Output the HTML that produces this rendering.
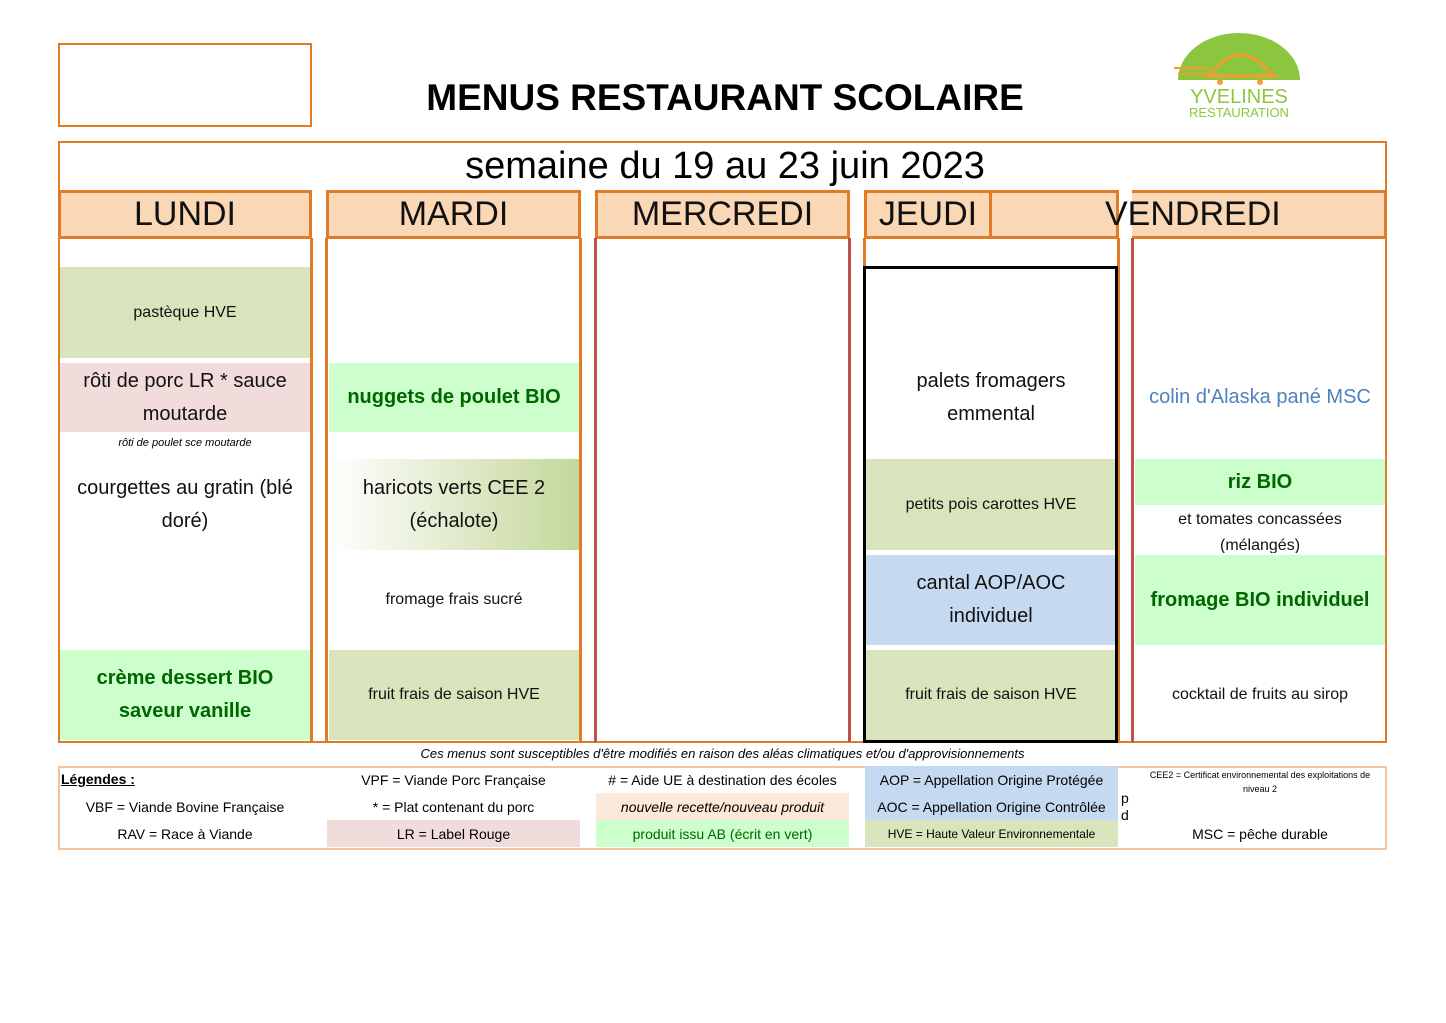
<!DOCTYPE html>
<html><head><meta charset="utf-8"><style>
body{margin:0;width:1446px;height:1023px;background:#fff;position:relative;font-family:"Liberation Sans","DejaVu Sans",sans-serif;overflow:hidden}
div{position:absolute;box-sizing:border-box}
.c{display:flex;align-items:center;justify-content:center;text-align:center}
.h{background:#fad7b5;border:3px solid #e07b28;font-size:34px;color:#111}
.t{font-size:20px;line-height:33px;color:#111;padding:0 22px}
.s{font-size:16px;color:#111}
.g{background:#ccffcc;color:#006600;font-weight:bold;font-size:20px;line-height:33px;padding:0 24px}
.k{background:#d8e4bc}
.L{font-size:14px;height:27px}
</style></head><body>
<div style="left:58px;top:43px;width:254px;height:84px;border:2px solid #e07b28"></div>
<div class="c" style="left:330px;top:70px;width:790px;height:56px;font-size:37px;font-weight:bold;letter-spacing:0px">MENUS RESTAURANT SCOLAIRE</div>
<svg style="position:absolute;left:1170px;top:30px" width="140" height="95">
<path d="M8 50 A61 47 0 0 1 130 50 Z" fill="#8cc63f"/>
<path d="M40 45 Q70 5 102 45" fill="none" stroke="#f39c33" stroke-width="3"/>
<line x1="34" y1="46" x2="108" y2="46" stroke="#f39c33" stroke-width="3"/>
<circle cx="50" cy="52" r="3" fill="#f39c33"/><circle cx="90" cy="52" r="3" fill="#f39c33"/>
<line x1="4" y1="38" x2="40" y2="38" stroke="#f39c33" stroke-width="2"/>
<line x1="8" y1="44" x2="40" y2="44" stroke="#f39c33" stroke-width="2"/>
<text x="69" y="73" font-size="20" fill="#8cc63f" text-anchor="middle" font-family="Liberation Sans">YVELINES</text>
<text x="69" y="87" font-size="13" fill="#8cc63f" text-anchor="middle" font-family="Liberation Sans">RESTAURATION</text>
</svg>
<div style="left:58px;top:141px;width:1329px;height:602px;border:2px solid #e07b28"></div>
<div class="c" style="left:330px;top:143px;width:790px;height:46px;font-size:38px">semaine du 19 au 23 juin 2023</div>

<div class="h c" style="left:58px;top:190px;width:254px;height:49px">LUNDI</div>
<div class="h c" style="left:326px;top:190px;width:255px;height:49px">MARDI</div>
<div class="h c" style="left:595px;top:190px;width:255px;height:49px">MERCREDI</div>
<div class="h c" style="left:864px;top:190px;width:128px;height:49px">JEUDI</div>
<div class="h" style="left:989px;top:190px;width:130px;height:49px;border-left:3px solid #e07b28"></div>
<div class="h" style="left:1132px;top:190px;width:255px;height:49px;border-left:none"></div>
<div style="left:1105px;top:193px;width:200px;height:43px;font-size:34px;line-height:43px;color:#111">VENDREDI</div>

<div style="left:310px;top:238px;width:18px;height:504px;border-left:3px solid #e07b28;border-right:3px solid #e07b28"></div>
<div style="left:579px;top:238px;width:18px;height:504px;border-left:3px solid #e07b28;border-right:3px solid #c0504d"></div>
<div style="left:848px;top:238px;width:18px;height:504px;border-left:3px solid #c0504d;border-right:3px solid #e07b28"></div>
<div style="left:1117px;top:238px;width:17px;height:504px;border-left:3px solid #e07b28;border-right:3px solid #c0504d"></div>

<div class="c s k" style="left:60px;top:267px;width:250px;height:91px">pastèque HVE</div>
<div class="c t" style="left:60px;top:363px;width:250px;height:69px;background:#f2dcdb">rôti de porc LR * sauce moutarde</div>
<div class="c" style="left:60px;top:434px;width:250px;height:18px;font-size:11px;font-style:italic">rôti de poulet sce moutarde</div>
<div class="c t" style="left:60px;top:459px;width:250px;height:91px;padding:0 6px">courgettes au gratin (blé doré)</div>
<div class="c g" style="left:60px;top:650px;width:250px;height:90px;padding:0 30px">crème dessert BIO saveur vanille</div>

<div class="c g" style="left:329px;top:363px;width:250px;height:69px;padding:0">nuggets de poulet BIO</div>
<div class="c t" style="left:329px;top:459px;width:250px;height:91px;background:linear-gradient(90deg,#fff,#c4d79b)">haricots verts CEE 2 (échalote)</div>
<div class="c s" style="left:329px;top:555px;width:250px;height:90px">fromage frais sucré</div>
<div class="c s k" style="left:329px;top:650px;width:250px;height:90px">fruit frais de saison HVE</div>

<div class="c t" style="left:866px;top:363px;width:250px;height:69px;padding:0 40px">palets fromagers emmental</div>
<div class="c s k" style="left:866px;top:459px;width:250px;height:91px">petits pois carottes HVE</div>
<div class="c t" style="left:866px;top:555px;width:250px;height:90px;background:#c5d9f1;padding:0 40px">cantal AOP/AOC individuel</div>
<div class="c s k" style="left:866px;top:650px;width:250px;height:90px">fruit frais de saison HVE</div>
<div style="left:863px;top:266px;width:255px;height:477px;border:3px solid #000"></div>

<div class="c t" style="left:1135px;top:363px;width:250px;height:69px;color:#4f81bd;padding:0">colin d'Alaska pané MSC</div>
<div class="c g" style="left:1135px;top:459px;width:250px;height:46px">riz BIO</div>
<div class="c s" style="left:1135px;top:505px;width:250px;height:48px;line-height:26px;overflow:hidden;align-items:flex-start;padding:2px 30px 0">et tomates concassées (mélangés)</div>
<div class="c g" style="left:1135px;top:555px;width:250px;height:90px;padding:0">fromage BIO individuel</div>
<div class="c s" style="left:1135px;top:650px;width:250px;height:90px">cocktail de fruits au sirop</div>

<div class="c" style="left:58px;top:744px;width:1329px;height:18px;font-size:13px;font-style:italic">Ces menus sont susceptibles d'être modifiés en raison des aléas climatiques et/ou d'approvisionnements</div>

<div style="left:58px;top:766px;width:1329px;height:84px;border:2px solid #f4c49c"></div>
<div class="L" style="left:61px;top:766px;width:200px;font-size:14px;line-height:27px;font-weight:bold;text-decoration:underline">Légendes :</div>
<div class="c L" style="left:60px;top:793px;width:250px">VBF = Viande Bovine Française</div>
<div class="c L" style="left:60px;top:820px;width:250px">RAV = Race à Viande</div>
<div class="c L" style="left:327px;top:766px;width:253px">VPF = Viande Porc Française</div>
<div class="c L" style="left:327px;top:793px;width:253px">* = Plat contenant du porc</div>
<div class="c L" style="left:327px;top:820px;width:253px;background:#f2dcdb">LR = Label Rouge</div>
<div class="c L" style="left:596px;top:766px;width:253px">#  = Aide UE à destination des écoles</div>
<div class="c L" style="left:596px;top:793px;width:253px;background:#fde9d9;font-style:italic">nouvelle recette/nouveau produit</div>
<div class="c L" style="left:596px;top:820px;width:253px;background:#ccffcc;color:#006600">produit issu AB (écrit en vert)</div>
<div class="c L" style="left:865px;top:766px;width:253px;background:#c5d9f1">AOP = Appellation Origine Protégée</div>
<div class="c L" style="left:865px;top:793px;width:253px;background:#c5d9f1">AOC = Appellation Origine Contrôlée</div>
<div class="c L" style="left:865px;top:820px;width:253px;background:#d8e4bc;font-size:12px">HVE = Haute Valeur Environnementale</div>
<div style="left:1121px;top:790px;width:10px;height:30px;font-size:14px;line-height:17px;overflow:hidden">p d</div>
<div class="c" style="left:1145px;top:768px;width:230px;height:28px;font-size:9px;line-height:14px">CEE2 = Certificat environnemental des exploitations de niveau 2</div>
<div class="c L" style="left:1135px;top:820px;width:250px">MSC = pêche durable</div>
</body></html>
